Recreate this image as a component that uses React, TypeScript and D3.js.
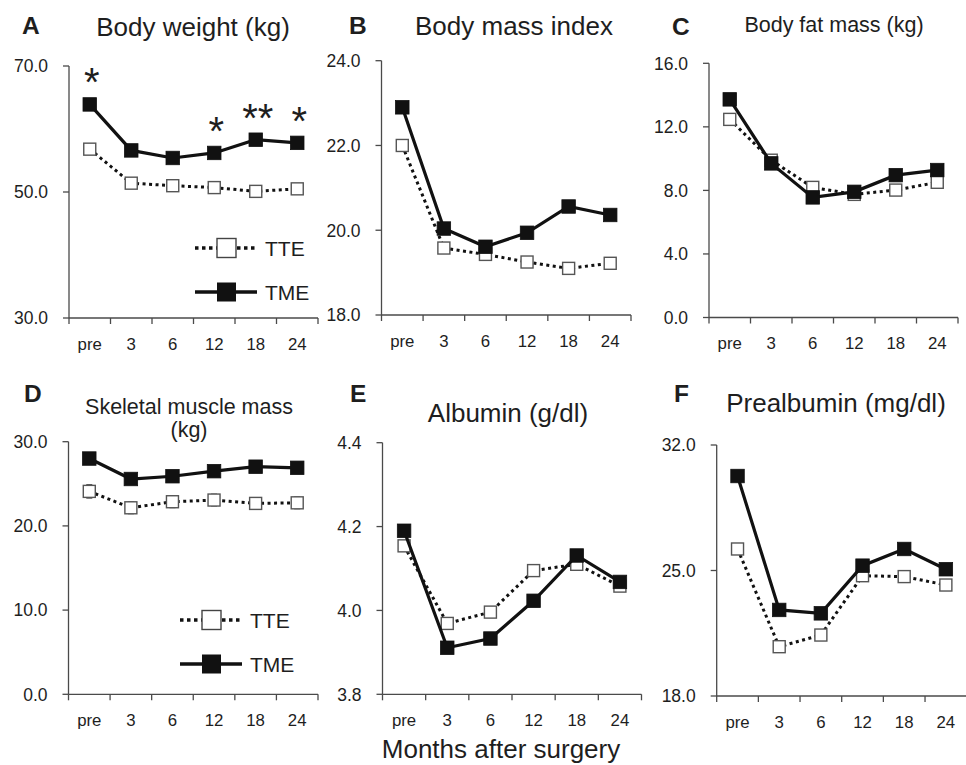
import React from 'react'
import * as d3 from 'd3'

// months after surgery
const months = ['pre', '3', '6', '12', '18', '24']

// A: body weight (kg)
const weightTTE = [56.8, 51.4, 51.0, 50.7, 50.1, 50.5]
const weightTME = [63.9, 56.6, 55.4, 56.2, 58.3, 57.8]
const weightStars = ['*', '', '', '*', '**', '*']
const weightTicks = [30, 50, 70]

// B: body mass index
const bmiTTE = [22.0, 19.58, 19.43, 19.25, 19.1, 19.22]
const bmiTME = [22.9, 20.04, 19.61, 19.94, 20.56, 20.36]
const bmiTicks = [18, 20, 22, 24]

// C: body fat mass (kg)
const fatTTE = [12.47, 9.9, 8.19, 7.75, 8.02, 8.51]
const fatTME = [13.73, 9.7, 7.56, 7.91, 8.96, 9.28]
const fatTicks = [0, 4, 8, 12, 16]

// D: skeletal muscle mass (kg)
const muscleTTE = [24.1, 22.15, 22.87, 23.07, 22.67, 22.74]
const muscleTTEErr = [0.8, 0.7, 0.7, 0.7, 0.6, 0.7]
const muscleTME = [28.0, 25.57, 25.9, 26.5, 27.03, 26.9]
const muscleTicks = [0, 10, 20, 30]

// E: albumin (g/dl)
const albuminTTE = [4.154, 3.969, 3.996, 4.095, 4.11, 4.058]
const albuminTME = [4.19, 3.911, 3.933, 4.023, 4.131, 4.068]
const albuminTicks = [3.8, 4.0, 4.2, 4.4]

// F: prealbumin (mg/dl)
const prealbuminTTE = [26.2, 20.75, 21.4, 24.71, 24.66, 24.19]
const prealbuminTME = [30.27, 22.8, 22.61, 25.27, 26.2, 25.07]
const prealbuminTicks = [18, 25, 32]

const FONT = "'Liberation Sans', Arial, Helvetica, sans-serif"

type Panel = {
  letter: string
  title: string[]
  titleSize: number
  titleX: number
  titleY: number
  letterX: number
  letterY: number
  x0: number
  x1: number
  yTop: number
  yBot: number
  ticks: number[]
  tte: number[]
  tme: number[]
  err?: number[]
  stars?: string[]
  legend?: { x: number; y: number }
}

const panels: Panel[] = [
  { letter: 'A', title: ['Body weight (kg)'], titleSize: 26, titleX: 193, titleY: 36, letterX: 22, letterY: 34,
    x0: 69, x1: 318, yTop: 66, yBot: 318, ticks: weightTicks, tte: weightTTE, tme: weightTME,
    stars: weightStars, legend: { x: 195, y: 248 } },
  { letter: 'B', title: ['Body mass index'], titleSize: 26, titleX: 514, titleY: 35, letterX: 349, letterY: 34,
    x0: 381.5, x1: 631, yTop: 60.7, yBot: 315, ticks: bmiTicks, tte: bmiTTE, tme: bmiTME },
  { letter: 'C', title: ['Body fat mass (kg)'], titleSize: 21.5, titleX: 834, titleY: 31.5, letterX: 672, letterY: 35,
    x0: 709, x1: 958, yTop: 63.3, yBot: 317.5, ticks: fatTicks, tte: fatTTE, tme: fatTME },
  { letter: 'D', title: ['Skeletal muscle mass', '(kg)'], titleSize: 21.5, titleX: 189, titleY: 413.5, letterX: 24, letterY: 401.7,
    x0: 68.5, x1: 318, yTop: 441.7, yBot: 694.3, ticks: muscleTicks, tte: muscleTTE, tme: muscleTME,
    err: muscleTTEErr, legend: { x: 180, y: 620 } },
  { letter: 'E', title: ['Albumin (g/dl)'], titleSize: 26, titleX: 508, titleY: 421.5, letterX: 350, letterY: 401.7,
    x0: 382.5, x1: 641.5, yTop: 442.7, yBot: 694.3, ticks: albuminTicks, tte: albuminTTE, tme: albuminTME },
  { letter: 'F', title: ['Prealbumin (mg/dl)'], titleSize: 26, titleX: 836, titleY: 411.5, letterX: 674, letterY: 401.7,
    x0: 716.7, x1: 966.7, yTop: 445, yBot: 696, ticks: prealbuminTicks, tte: prealbuminTTE, tme: prealbuminTME },
]

const AXIS = '#4a4a4a'
const TEXT = '#1e1e1e'

function ChartPanel({ p }: { p: Panel }) {
  const x = d3.scaleBand<string>().domain(months).range([p.x0, p.x1])
  const y = d3.scaleLinear().domain([p.ticks[0], p.ticks[p.ticks.length - 1]]).range([p.yBot, p.yTop])
  const cx = (m: string) => (x(m) as number) + x.bandwidth() / 2
  const line = d3.line<number>().x((d, i) => cx(months[i])).y(d => y(d))
  const bounds = d3.range(months.length + 1).map(i => p.x0 + i * x.bandwidth())
  const fmt = d3.format('.1f')
  const s1 = 12, s2 = 13.5

  return (
    <g>
      <text x={p.letterX} y={p.letterY} fontSize={24.5} fontWeight="bold" fill={TEXT}>{p.letter}</text>
      {p.title.map((t, i) => (
        <text key={i} x={p.titleX} y={p.titleY + i * 23.5} fontSize={p.titleSize} textAnchor="middle" fill={TEXT}>{t}</text>
      ))}

      {/* axes */}
      <line x1={p.x0} x2={p.x0} y1={p.yTop} y2={p.yBot} stroke={AXIS} strokeWidth={1.3} />
      <line x1={p.x0} x2={p.x1} y1={p.yBot} y2={p.yBot} stroke={AXIS} strokeWidth={1.3} />
      {p.ticks.map(t => (
        <g key={t}>
          <line x1={p.x0 - 6} x2={p.x0} y1={y(t)} y2={y(t)} stroke={AXIS} strokeWidth={1.3} />
          <text x={p.x0 - 21} y={y(t)} dy="0.36em" fontSize={17.5} textAnchor="end" fill={TEXT}>{fmt(t)}</text>
        </g>
      ))}
      {bounds.map((b, i) => (
        <line key={i} x1={b} x2={b} y1={p.yBot} y2={p.yBot + 6} stroke={AXIS} strokeWidth={1.3} />
      ))}
      {months.map(m => (
        <text key={m} x={cx(m)} y={p.yBot + 31.5} fontSize={16.8} textAnchor="middle" fill={TEXT}>{m}</text>
      ))}

      {/* TTE */}
      <path d={line(p.tte) || ''} fill="none" stroke="#111" strokeWidth={3} strokeDasharray="3 3.5" />
      {p.err && p.tte.map((v, i) => (
        <g key={'e' + i} stroke="#555" strokeWidth={1.2}>
          <line x1={cx(months[i])} x2={cx(months[i])} y1={y(v - p.err![i])} y2={y(v + p.err![i])} />
          <line x1={cx(months[i]) - 3} x2={cx(months[i]) + 3} y1={y(v - p.err![i])} y2={y(v - p.err![i])} />
          <line x1={cx(months[i]) - 3} x2={cx(months[i]) + 3} y1={y(v + p.err![i])} y2={y(v + p.err![i])} />
        </g>
      ))}
      {p.tte.map((v, i) => (
        <rect key={'t' + i} x={cx(months[i]) - s1 / 2} y={y(v) - s1 / 2} width={s1} height={s1}
          fill="#fff" stroke="#555" strokeWidth={1.4} />
      ))}

      {/* TME */}
      <path d={line(p.tme) || ''} fill="none" stroke="#111" strokeWidth={3.2} />
      {p.tme.map((v, i) => (
        <rect key={'m' + i} x={cx(months[i]) - s2 / 2} y={y(v) - s2 / 2} width={s2} height={s2}
          fill="#111" stroke="#111" strokeWidth={0.8} />
      ))}

      {p.stars && p.stars.map((s, i) => s ? (
        <text key={'s' + i} x={cx(months[i]) + 2} y={y(p.tme[i]) - 8} fontSize={40}
          textAnchor="middle" fill={TEXT}>{s}</text>
      ) : null)}

      {p.legend && (
        <g>
          <line x1={p.legend.x} x2={p.legend.x + 62} y1={p.legend.y} y2={p.legend.y}
            stroke="#111" strokeWidth={3.5} strokeDasharray="3.5 3.5" />
          <rect x={p.legend.x + 22} y={p.legend.y - 9.5} width={19} height={19} fill="#fff" stroke="#444" strokeWidth={1.4} />
          <text x={p.legend.x + 70} y={p.legend.y} dy="0.36em" fontSize={21} fill={TEXT}>TTE</text>
          <line x1={p.legend.x} x2={p.legend.x + 62} y1={p.legend.y + 44} y2={p.legend.y + 44}
            stroke="#111" strokeWidth={3.5} />
          <rect x={p.legend.x + 22} y={p.legend.y + 44 - 9.5} width={19} height={19} fill="#111" />
          <text x={p.legend.x + 70} y={p.legend.y + 44} dy="0.36em" fontSize={21} fill={TEXT}>TME</text>
        </g>
      )}
    </g>
  )
}

export default function App() {
  return (
    <svg width={966} height={765} style={{ position: 'absolute', left: 0, top: 0, background: '#fff' }}
      fontFamily={FONT}>
      <rect width={966} height={765} fill="#fff" />
      {panels.map(p => <ChartPanel key={p.letter} p={p} />)}
      <text x={501} y={758} fontSize={26} textAnchor="middle" fill={TEXT}>Months after surgery</text>
    </svg>
  )
}
